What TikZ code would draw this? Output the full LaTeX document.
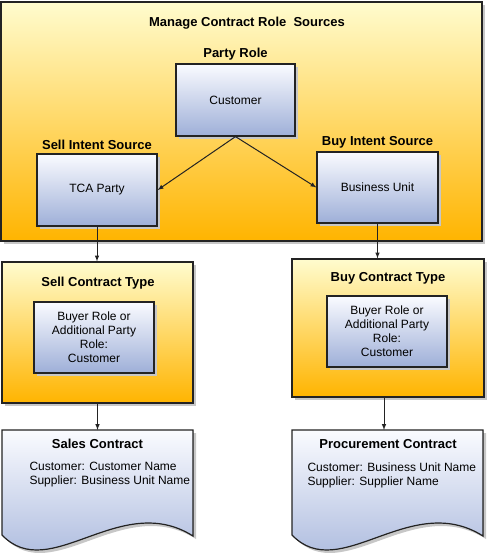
\documentclass[tikz,border=0pt]{standalone}
\usepackage{fontspec}
\setmainfont{Liberation Sans}
\usetikzlibrary{shadows}
\definecolor{ylwtop}{RGB}{255,252,206}
\definecolor{ylwbot}{RGB}{255,180,0}
\definecolor{blutop}{RGB}{250,251,255}
\definecolor{blubot}{RGB}{158,175,216}
\definecolor{edge}{RGB}{35,35,35}
\tikzset{
  shd/.style={drop shadow={shadow xshift=3pt, shadow yshift=-3pt, fill=black!22, opacity=1}},
  ylwbox/.style={draw=edge, line width=1.2pt, top color=ylwtop, bottom color=ylwbot, shd, inner sep=0pt},
  blubox/.style={draw=edge, line width=1.2pt, top color=blutop, bottom color=blubot, shd,
    align=center, inner sep=0pt, font=\fontsize{12}{14}\selectfont},
  ttl/.style={font=\fontsize{13}{15}\selectfont\bfseries},
  txt/.style={font=\fontsize{12}{14}\selectfont, align=left},
  link/.style={-latex, line width=1pt, draw=edge}
}
\begin{document}
\begin{tikzpicture}[x=1pt, y=-1pt]
  \useasboundingbox (0,0) rectangle (495,555);

  % --- manage contract role sources ---
  \node[ylwbox, minimum width=481pt, minimum height=239pt] (mcrs) at (241.5,121.5) {};
  \node[ttl] (mcrslbl) at (247,23) {Manage Contract Role~ Sources};

  \node[blubox, minimum width=119pt, minimum height=72pt] (cust) at (235.5,100) {Customer};
  \node[ttl, above] (custlbl) at (cust.north) {Party Role};

  \node[blubox, minimum width=120pt, minimum height=72pt] (tca) at (97,190) {TCA Party};
  \node[ttl, above] (tcalbl) at (tca.north) {Sell Intent Source};

  \node[blubox, minimum width=121pt, minimum height=71pt] (bu) at (377.5,187.5) {Business Unit};
  \node[ttl, above] (bulbl) at (bu.north) {Buy Intent Source};

  \draw[link] (cust.south) -- (tca.east);
  \draw[link] (cust.south) -- (bu.west);

  % --- contract types ---
  \node[ylwbox, minimum width=191pt, minimum height=141pt] (sellct) at (97.5,332.5) {};
  \node[ttl] (sellctlbl) at (98,283) {Sell Contract Type};
  \node[blubox, minimum width=120pt, minimum height=71pt] (sellrole) at (94,337.5)
    {Buyer Role or\\Additional Party\\Role:\\Customer};

  \node[ylwbox, minimum width=192pt, minimum height=138pt] (buyct) at (388,328) {};
  \node[ttl] (buyctlbl) at (388,278) {Buy Contract Type};
  \node[blubox, minimum width=120pt, minimum height=71pt] (buyrole) at (387,331.5)
    {Buyer Role or\\Additional Party\\Role:\\Customer};

  \draw[link] (tca.south) -- (tca.south |- sellct.north);
  \draw[link] (bu.south) -- (bu.south |- buyct.north);

  % --- contract documents ---
  \coordinate (salestop) at (97.5,430);
  \coordinate (proctop) at (384,430);
  \filldraw[draw=edge, line width=1.2pt, top color=blutop, bottom color=blubot, shd]
    (2,430) -- (193,430) -- (193,536)
    .. controls (120,490) and (50,585) .. (2,535) -- cycle;
  \filldraw[draw=edge, line width=1.2pt, top color=blutop, bottom color=blubot, shd]
    (292,430) -- (483,430) -- (483,536)
    .. controls (410,490) and (340,585) .. (292,535) -- cycle;

  \node[ttl] (saleslbl) at (97.5,444) {Sales Contract};
  \node[txt, anchor=west] (salestxt) at (26,475)
    {Customer: Customer Name\\Supplier: Business Unit Name};
  \node[ttl] (proclbl) at (388,444) {Procurement Contract};
  \node[txt, anchor=west] (proctxt) at (304,475)
    {Customer: Business Unit Name\\Supplier: Supplier Name};

  \draw[link] (sellct.south) -- (salestop);
  \draw[link] (buyct.south -| proctop) -- (proctop);
\end{tikzpicture}
\end{document}
